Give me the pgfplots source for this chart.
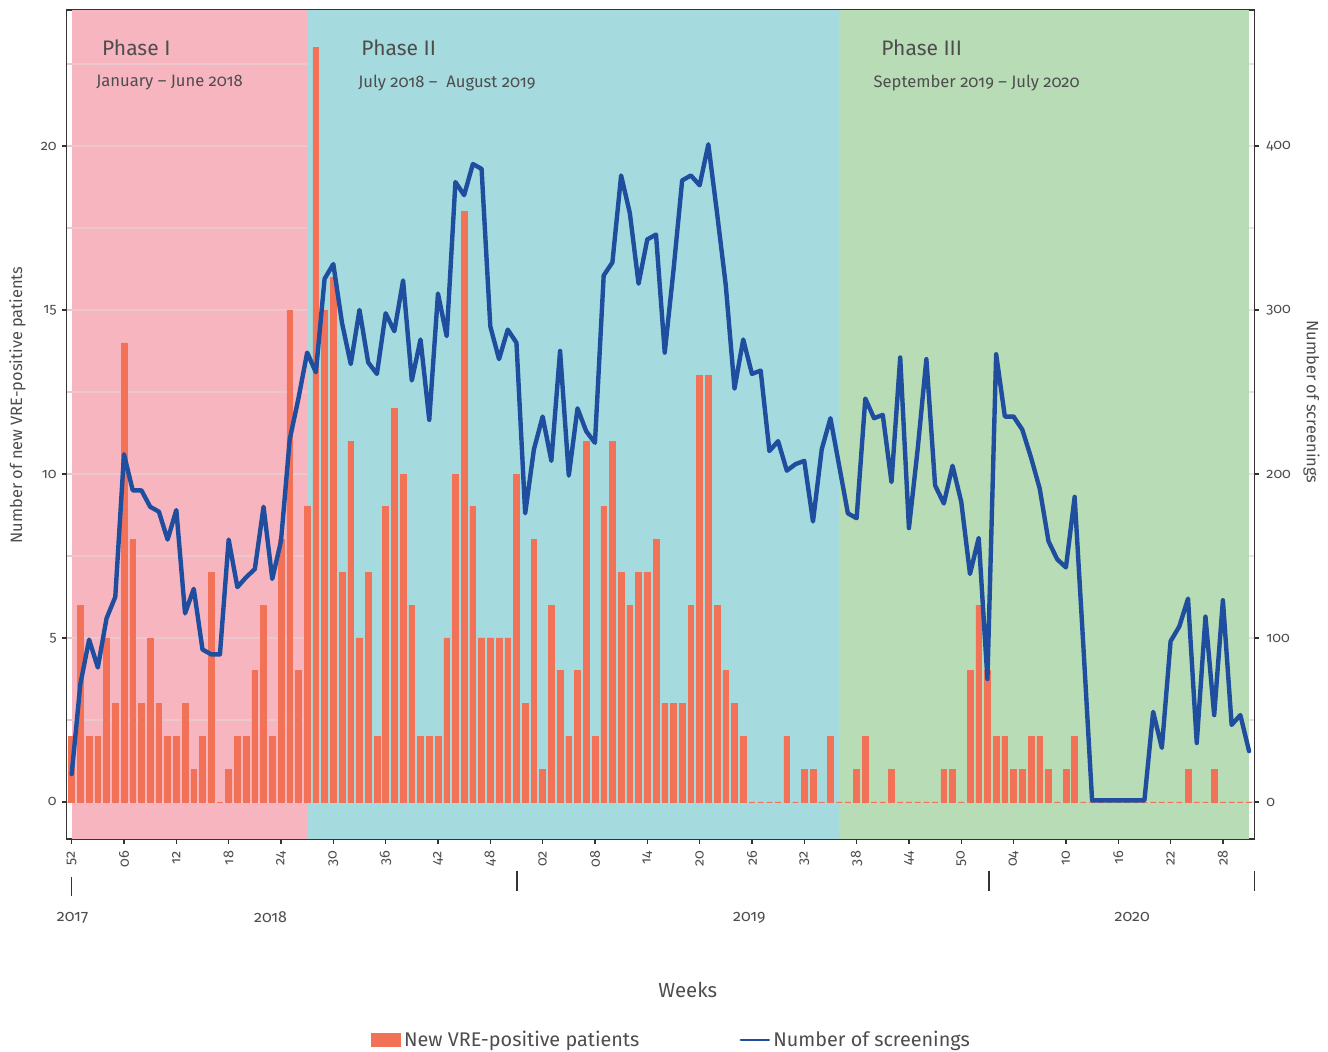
\documentclass[border=0pt]{standalone}
\usepackage{pgfplots}
\pgfplotsset{compat=1.18}
\usepackage{fontspec}
\setmainfont{Fira Sans}[Numbers=OldStyle]
\definecolor{barcol}{HTML}{F27258}
\definecolor{linecol}{HTML}{1F4E9F}
\definecolor{pinkbg}{HTML}{F7B5C0}
\definecolor{bluebg}{HTML}{A5DBDE}
\definecolor{greenbg}{HTML}{B8DCB5}
\definecolor{txt}{HTML}{4D4D4D}
\definecolor{frame}{HTML}{333333}
\definecolor{gridpink}{HTML}{EBC6CC}
\definecolor{gridgrey}{HTML}{E6E6E6}

\pgfplotstableread{
x y
0 2
1 6
2 2
3 2
4 5
5 3
6 14
7 8
8 3
9 5
10 3
11 2
12 2
13 3
14 1
15 2
16 7
17 0
18 1
19 2
20 2
21 4
22 6
23 2
24 8
25 15
26 4
27 9
28 23
29 15
30 16
31 7
32 11
33 5
34 7
35 2
36 9
37 12
38 10
39 6
40 2
41 2
42 2
43 5
44 10
45 18
46 9
47 5
48 5
49 5
50 5
51 10
52 3
53 8
54 1
55 6
56 4
57 2
58 4
59 11
60 2
61 9
62 11
63 7
64 6
65 7
66 7
67 8
68 3
69 3
70 3
71 6
72 13
73 13
74 6
75 4
76 3
77 2
78 0
79 0
80 0
81 0
82 2
83 0
84 1
85 1
86 0
87 2
88 0
89 0
90 1
91 2
92 0
93 0
94 1
95 0
96 0
97 0
98 0
99 0
100 1
101 1
102 0
103 4
104 6
105 4
106 2
107 2
108 1
109 1
110 2
111 2
112 1
113 0
114 1
115 2
116 0
117 0
118 0
119 0
120 0
121 0
122 0
123 0
124 0
125 0
126 0
127 0
128 1
129 0
130 0
131 1
132 0
133 0
134 0
135 0
}\bartable

\pgfplotstableread{
x y
0 17
1 72
2 99
3 82
4 112
5 125
6 212
7 190
8 190
9 180
10 177
11 160
12 178
13 115
14 130
15 93
16 90
17 90
18 160
19 131
20 137
21 142
22 180
23 136
24 159
25 221
26 246
27 274
28 262
29 319
30 328
31 292
32 267
33 300
34 268
35 261
36 298
37 287
38 318
39 257
40 282
41 233
42 310
43 284
44 378
45 370
46 389
47 386
48 290
49 270
50 288
51 280
52 176
53 215
54 235
55 208
56 275
57 199
58 240
59 226
60 219
61 321
62 329
63 382
64 359
65 316
66 343
67 346
68 274
69 324
70 379
71 382
72 376
73 401
74 359
75 315
76 252
77 282
78 261
79 263
80 214
81 220
82 202
83 206
84 208
85 171
86 215
87 234
88 205
89 176
90 173
91 246
92 234
93 236
94 195
95 271
96 167
97 215
98 270
99 193
100 182
101 205
102 183
103 139
104 161
105 75
106 273
107 235
108 235
109 227
110 210
111 191
112 159
113 148
114 143
115 186
116 95
117 1
118 1
119 1
120 1
121 1
122 1
123 1
124 55
125 33
126 98
127 107
128 124
129 36
130 113
131 53
132 123
133 47
134 53
135 31
}\linetable

\begin{document}
\begin{tikzpicture}
\useasboundingbox (0,0) rectangle (664pt,526pt);
\begin{axis}[
  at={(33.35pt,106.5pt)}, anchor=south west,
  scale only axis, width=593.8pt, height=414.5pt,
  xmin=-0.57, xmax=135.6, ymin=-1.13, ymax=24.15,
  clip=false,
  axis line style={frame, line width=0.8pt},
  xtick={0,6,...,132},
  xticklabels={52,06,12,18,24,30,36,42,48,02,08,14,20,26,32,38,44,50,04,10,16,22,28},
  ytick={0,5,10,15,20},
  xtick pos=lower, ytick pos=left,
  tick align=outside,
  major tick length=2.5pt,
  tick style={frame, line width=0.6pt},
  tick label style={font=\fontsize{7.2}{8}\selectfont, text=txt},
  yticklabel style={xshift=1pt},
  xticklabel style={rotate=90, anchor=east},
  /pgf/number format/assume math mode=true,
  ylabel={Number of new VRE-positive patients},
  ylabel style={at={(axis description cs:-0.0414,0.5235)}, anchor=center, font=\fontsize{8.2}{10}\selectfont, text=txt},
  xlabel={Weeks},
  xlabel style={at={(axis description cs:0.523,-0.182)}, anchor=center, font=\fontsize{10.2}{12}\selectfont, text=txt},
]
% phase backgrounds
\fill[pinkbg] (axis cs:0,-1.13) rectangle (axis cs:27,24.15);
\fill[bluebg] (axis cs:27,-1.13) rectangle (axis cs:88,24.15);
\fill[greenbg] (axis cs:88,-1.13) rectangle (axis cs:135,24.15);
% grid lines (visible over pink and white margins)
\pgfplotsinvokeforeach{0,2.5,5,7.5,10,12.5,15,17.5,20,22.5}{
  \draw[gridpink, line width=0.6pt] (axis cs:-0.57,#1) -- (axis cs:27,#1);
  \draw[gridgrey, line width=0.6pt] (axis cs:135,#1) -- (axis cs:135.6,#1);
}
% bars
\addplot[ybar, bar width=0.66, fill=barcol, draw=barcol, line width=0.3pt] table[x=x,y=y] {\bartable};
% phase labels
\node[anchor=west, inner sep=0pt, text=txt, font=\fontsize{10.5}{12}\selectfont] at (axis cs:3.45,22.99) {Phase I};
\node[anchor=west, inner sep=0pt, text=txt, font=\fontsize{8.3}{10}\selectfont] at (axis cs:2.78,21.93) {January -- June 2018};
\node[anchor=west, inner sep=0pt, text=txt, font=\fontsize{10.5}{12}\selectfont] at (axis cs:33.18,22.99) {Phase II};
\node[anchor=west, inner sep=0pt, text=txt, font=\fontsize{8.3}{10}\selectfont] at (axis cs:32.83,21.93) {July 2018 --\ \ August 2019};
\node[anchor=west, inner sep=0pt, text=txt, font=\fontsize{10.5}{12}\selectfont] at (axis cs:92.8,22.99) {Phase III};
\node[anchor=west, inner sep=0pt, text=txt, font=\fontsize{8.3}{10}\selectfont] at (axis cs:91.9,21.93) {September 2019 -- July 2020};
% year markers
\draw[frame, line width=0.8pt] (axis cs:0,-2.296) -- (axis cs:0,-2.866);
\draw[frame, line width=0.8pt] (axis cs:51.07,-2.095) -- (axis cs:51.07,-2.713);
\draw[frame, line width=0.8pt] (axis cs:105.2,-2.095) -- (axis cs:105.2,-2.713);
\draw[frame, line width=0.8pt] (axis cs:135.6,-2.095) -- (axis cs:135.6,-2.713);
\node[text=txt, font=\fontsize{8}{9}\selectfont] at (axis cs:0.1,-3.52) {2017};
\node[text=txt, font=\fontsize{8}{9}\selectfont] at (axis cs:22.8,-3.52) {2018};
\node[text=txt, font=\fontsize{8}{9}\selectfont] at (axis cs:77.7,-3.52) {2019};
\node[text=txt, font=\fontsize{8}{9}\selectfont] at (axis cs:121.6,-3.52) {2020};
\end{axis}

\begin{axis}[
  at={(33.35pt,106.5pt)}, anchor=south west,
  scale only axis, width=593.8pt, height=414.5pt,
  xmin=-0.57, xmax=135.6, ymin=-22.56, ymax=482.9,
  axis x line=none,
  axis y line*=right,
  axis line style={frame, line width=0.8pt},
  ytick={0,100,200,300,400},
  tick align=outside,
  major tick length=2.5pt,
  tick style={frame, line width=0.6pt},
  tick label style={font=\fontsize{7.2}{8}\selectfont, text=txt},
  /pgf/number format/assume math mode=true,
  ylabel={Number of screenings},
  ylabel style={at={(axis description cs:1.0482,0.527)}, anchor=center, rotate=180, font=\fontsize{8.2}{10}\selectfont, text=txt},
  legend columns=2,
  legend style={draw=none, fill=none, at={(0.5097,-0.2425)}, anchor=center,
    font=\fontsize{9.9}{11}\selectfont, text=txt,
    /tikz/every even column/.append style={column sep=48.5pt},
    nodes={inner sep=1.6pt}},
]
\addlegendimage{legend image code/.code={\fill[barcol] (0pt,-3.25pt) rectangle (14.5pt,3.25pt);}}
\addlegendentry{New VRE-positive patients}
\addplot[linecol, line width=2.2pt, line join=round, line cap=round, mark=none,
  legend image code/.code={\draw[linecol, line width=1.3pt] (0pt,0pt) -- (14pt,0pt);}]
  table[x=x,y=y] {\linetable};
\addlegendentry{Number of screenings}
\end{axis}
\end{tikzpicture}
\end{document}
